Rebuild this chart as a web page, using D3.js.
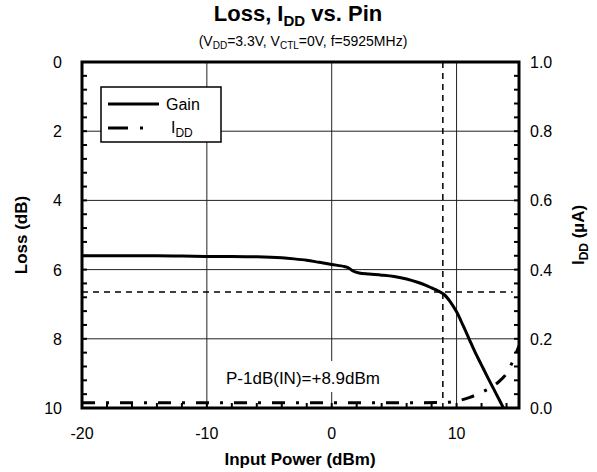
<!DOCTYPE html>
<html>
<head>
<meta charset="utf-8">
<script src="https://cdn.jsdelivr.net/npm/d3@7"></script>
<style>
  body { margin: 0; background: #fff; }
  svg { display: block; font-family: "Liberation Sans", Arial, sans-serif; }
</style>
</head>
<body>
<svg id="chart" width="597" height="472"></svg>
<script>
// Insertion loss vs. input power (dBm -> dB)
const pinLoss = [-20, -18, -16, -14, -12, -10, -8, -6, -4, -3, -2, -1, 0, 1, 1.3, 1.7, 2.2, 3, 4, 5, 6, 7, 7.5, 8, 8.5, 9, 9.5, 10, 10.5, 11, 11.5, 12, 12.5, 13, 13.5, 13.75];
const lossValues = [5.60, 5.60, 5.60, 5.60, 5.61, 5.62, 5.62, 5.63, 5.66, 5.69, 5.73, 5.79, 5.85, 5.91, 5.94, 6.04, 6.10, 6.13, 6.16, 6.20, 6.27, 6.38, 6.45, 6.53, 6.61, 6.72, 6.93, 7.22, 7.60, 8.00, 8.40, 8.76, 9.12, 9.47, 9.82, 10.0];

// Supply current vs. input power (dBm -> µA)
const pinIdd = [-20, -15, -10, -5, 0, 5, 9, 10, 11, 12, 13, 13.5, 14, 14.5, 15];
const iddValues = [0.015, 0.015, 0.015, 0.015, 0.015, 0.015, 0.016, 0.02, 0.03, 0.045, 0.065, 0.08, 0.1, 0.135, 0.18];

// Axis ticks
const xTicks = [-20, -10, 0, 10];
const lossTicks = [0, 2, 4, 6, 8, 10];
const iddTicks = [0.0, 0.2, 0.4, 0.6, 0.8, 1.0];

// P-1dB marker
const p1dbPin = 8.9;
const p1dbLoss = 6.65;

const svg = d3.select("#chart");
const m = { left: 82, right: 519, top: 62, bottom: 408 };

const x = d3.scaleLinear().domain([-20, 15]).range([m.left, m.right]);
const yL = d3.scaleLinear().domain([0, 10]).range([m.top, m.bottom]);
const yR = d3.scaleLinear().domain([0, 1]).range([m.bottom, m.top]);

// Grid lines
const grid = svg.append("g").attr("stroke", "#222").attr("stroke-width", 1);
[-10, 0, 10].forEach(v => grid.append("line")
  .attr("x1", x(v)).attr("x2", x(v)).attr("y1", m.top).attr("y2", m.bottom));
[2, 4, 6, 8].forEach(v => grid.append("line")
  .attr("x1", m.left).attr("x2", m.right).attr("y1", yL(v)).attr("y2", yL(v)));

// Minor ticks pointing inward
const minor = svg.append("g").attr("stroke", "#000").attr("stroke-width", 2);
d3.range(0, 10.001, 0.4).forEach(v => minor.append("line")
  .attr("x1", m.left).attr("x2", m.left + 5).attr("y1", yL(v)).attr("y2", yL(v)));
d3.range(0, 1.0001, 0.04).forEach(v => minor.append("line")
  .attr("x1", m.right).attr("x2", m.right - 5).attr("y1", yR(v)).attr("y2", yR(v)));
d3.range(-20, 15.001, 2).forEach(v => minor.append("line")
  .attr("x1", x(v)).attr("x2", x(v)).attr("y1", m.bottom).attr("y2", m.bottom - 5));

// P-1dB annotation on a white label box
const note = svg.append("g");
note.append("rect").attr("x", 222).attr("y", 361).attr("width", 162).attr("height", 31)
  .attr("fill", "#fff");
note.append("text").attr("x", 380).attr("y", 384).attr("text-anchor", "end")
  .attr("font-size", 17).text(`P-1dB(IN)=+${p1dbPin}dBm`);

// P-1dB reference lines
const ref = svg.append("g").attr("stroke", "#000").attr("stroke-width", 1.5)
  .attr("stroke-dasharray", "6,5");
ref.append("line").attr("x1", x(p1dbPin)).attr("x2", x(p1dbPin))
  .attr("y1", m.top).attr("y2", m.bottom);
ref.append("line").attr("x1", m.left).attr("x2", x(14.5))
  .attr("y1", yL(p1dbLoss)).attr("y2", yL(p1dbLoss));

// Clip the curves to the plot area
svg.append("clipPath").attr("id", "plot").append("rect")
  .attr("x", m.left).attr("y", m.top)
  .attr("width", m.right - m.left).attr("height", m.bottom - m.top);

const smooth = d3.curveCatmullRom.alpha(0.5);
const lossLine = d3.line().x((d, i) => x(pinLoss[i])).y(d => yL(d)).curve(smooth);
const iddLine = d3.line().x((d, i) => x(pinIdd[i])).y(d => yR(d)).curve(d3.curveMonotoneX);

svg.append("path").attr("clip-path", "url(#plot)")
  .attr("d", iddLine(iddValues))
  .attr("fill", "none").attr("stroke", "#000").attr("stroke-width", 3)
  .attr("stroke-dasharray", "13,11,3,11");

svg.append("path").attr("clip-path", "url(#plot)")
  .attr("d", lossLine(lossValues))
  .attr("fill", "none").attr("stroke", "#000").attr("stroke-width", 3);

// Frame
svg.append("rect").attr("x", m.left).attr("y", m.top)
  .attr("width", m.right - m.left).attr("height", m.bottom - m.top)
  .attr("fill", "none").attr("stroke", "#000").attr("stroke-width", 3);

// Tick labels
const lab = svg.append("g").attr("font-size", 16).attr("fill", "#000");
lossTicks.forEach(v => lab.append("text").attr("x", m.left - 20).attr("y", yL(v) + 6)
  .attr("text-anchor", "end").text(v));
iddTicks.forEach(v => lab.append("text").attr("x", m.right + 11).attr("y", yR(v) + 6)
  .attr("text-anchor", "start").text(v.toFixed(1)));
xTicks.forEach(v => lab.append("text").attr("x", x(v)).attr("y", m.bottom + 31)
  .attr("text-anchor", "middle").text(v));

// Axis titles
svg.append("text").attr("x", 300).attr("y", 465).attr("text-anchor", "middle")
  .attr("font-size", 17).attr("font-weight", "bold").text("Input Power (dBm)");
svg.append("text").attr("transform", `translate(27,${(m.top + m.bottom) / 2}) rotate(-90)`)
  .attr("text-anchor", "middle").attr("font-size", 17).attr("font-weight", "bold")
  .text("Loss (dB)");
const rt = svg.append("text").attr("transform", `translate(584,${(m.top + m.bottom) / 2}) rotate(-90)`)
  .attr("text-anchor", "middle").attr("font-size", 17).attr("font-weight", "bold");
rt.append("tspan").text("I");
rt.append("tspan").attr("font-size", 12).attr("dy", 4).text("DD");
rt.append("tspan").attr("dy", -4).text(" (µA)");

// Title and conditions
const title = svg.append("text").attr("x", 298).attr("y", 21).attr("text-anchor", "middle")
  .attr("font-size", 22).attr("font-weight", "bold");
title.append("tspan").text("Loss, I");
title.append("tspan").attr("font-size", 15).attr("dy", 5).text("DD");
title.append("tspan").attr("dy", -5).text(" vs. Pin");

const sub = svg.append("text").attr("x", 303).attr("y", 46).attr("text-anchor", "middle")
  .attr("font-size", 14);
sub.append("tspan").text("(V");
sub.append("tspan").attr("font-size", 10).attr("dy", 3).text("DD");
sub.append("tspan").attr("dy", -3).text("=3.3V, V");
sub.append("tspan").attr("font-size", 10).attr("dy", 3).text("CTL");
sub.append("tspan").attr("dy", -3).text("=0V, f=5925MHz)");

// Legend
const lg = svg.append("g");
lg.append("rect").attr("x", 101).attr("y", 87).attr("width", 120).attr("height", 55)
  .attr("fill", "#fff").attr("stroke", "#000").attr("stroke-width", 1.5);
lg.append("line").attr("x1", 108).attr("x2", 159).attr("y1", 104).attr("y2", 104)
  .attr("stroke", "#000").attr("stroke-width", 3);
lg.append("line").attr("x1", 108).attr("x2", 159).attr("y1", 128).attr("y2", 128)
  .attr("stroke", "#000").attr("stroke-width", 3).attr("stroke-dasharray", "20,12,3,20");
lg.append("text").attr("x", 166).attr("y", 110).attr("font-size", 16).text("Gain");
const li = lg.append("text").attr("x", 171).attr("y", 133).attr("font-size", 16);
li.append("tspan").text("I");
li.append("tspan").attr("font-size", 12).attr("dy", 4).text("DD");
</script>
</body>
</html>
